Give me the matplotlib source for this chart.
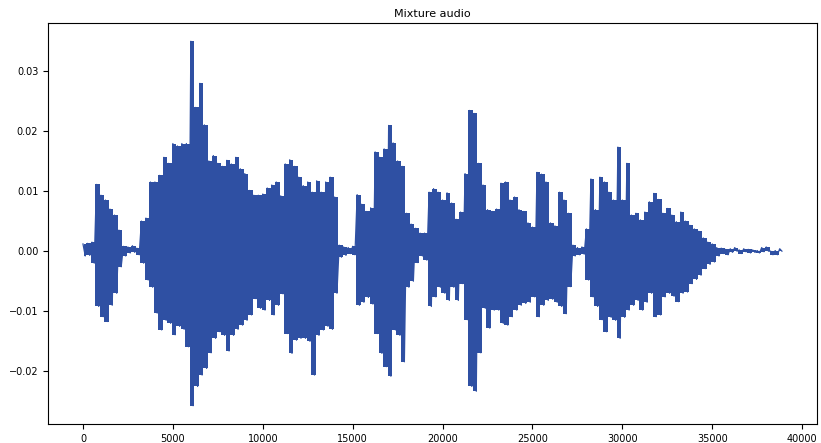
import numpy as np
import matplotlib
matplotlib.use("Agg")
import matplotlib.pyplot as plt

title = "Mixture audio"
step = 250  # samples between envelope readings

# upper (positive) peaks of the waveform, one reading every 250 samples from sample 0
upper = [
    0.0012, 0.0013, 0.0015, 0.0111, 0.0093, 0.0085, 0.0070, 0.0060, 0.0035, 0.0008,
    0.0007, 0.0009, 0.0005, 0.0050, 0.0055, 0.0115, 0.0115, 0.0126, 0.0156, 0.0146,
    0.0179, 0.0175, 0.0179, 0.0179, 0.0349, 0.0239, 0.0279, 0.0210, 0.0150, 0.0159,
    0.0146, 0.0141, 0.0151, 0.0145, 0.0156, 0.0137, 0.0129, 0.0101, 0.0093, 0.0093,
    0.0095, 0.0105, 0.0110, 0.0115, 0.0092, 0.0145, 0.0152, 0.0141, 0.0123, 0.0109,
    0.0115, 0.0098, 0.0117, 0.0098, 0.0115, 0.0123, 0.0090, 0.0010, 0.0007, 0.0006,
    0.0008, 0.0094, 0.0078, 0.0066, 0.0072, 0.0165, 0.0156, 0.0170, 0.0209, 0.0180,
    0.0150, 0.0141, 0.0063, 0.0045, 0.0038, 0.0030, 0.0030, 0.0098, 0.0104, 0.0098,
    0.0085, 0.0097, 0.0080, 0.0053, 0.0065, 0.0129, 0.0234, 0.0229, 0.0146, 0.0110,
    0.0069, 0.0066, 0.0070, 0.0113, 0.0115, 0.0085, 0.0090, 0.0069, 0.0066, 0.0047,
    0.0040, 0.0131, 0.0128, 0.0115, 0.0047, 0.0042, 0.0098, 0.0085, 0.0063, 0.0010,
    0.0006, 0.0007, 0.0037, 0.0120, 0.0069, 0.0123, 0.0115, 0.0098, 0.0085, 0.0173,
    0.0085, 0.0146, 0.0060, 0.0063, 0.0052, 0.0065, 0.0082, 0.0096, 0.0086, 0.0063,
    0.0071, 0.0060, 0.0049, 0.0065, 0.0050, 0.0043, 0.0037, 0.0033, 0.0022, 0.0015,
    0.0012, 0.0006, 0.0005, 0.0003, 0.0004, 0.0006, 0.0002, 0.0004, 0.0003, 0.0002,
    0.0001, 0.0006, 0.0007, 0.0000, 0.0001, 0.0004,
]

# lower (negative) peaks of the waveform, read half a step after each upper peak
lower = [
    -0.0008, -0.0007, -0.0020, -0.0092, -0.0109, -0.0117, -0.0090, -0.0070, -0.0026, -0.0008,
    -0.0003, -0.0002, -0.0006, -0.0020, -0.0048, -0.0060, -0.0103, -0.0131, -0.0115, -0.0120,
    -0.0139, -0.0125, -0.0130, -0.0159, -0.0257, -0.0225, -0.0206, -0.0195, -0.0169, -0.0145,
    -0.0134, -0.0140, -0.0166, -0.0140, -0.0130, -0.0123, -0.0115, -0.0106, -0.0079, -0.0095,
    -0.0098, -0.0082, -0.0106, -0.0090, -0.0071, -0.0137, -0.0170, -0.0148, -0.0145, -0.0145,
    -0.0150, -0.0206, -0.0140, -0.0131, -0.0125, -0.0130, -0.0070, -0.0010, -0.0007, -0.0004,
    -0.0006, -0.0090, -0.0085, -0.0077, -0.0088, -0.0137, -0.0170, -0.0192, -0.0208, -0.0131,
    -0.0140, -0.0184, -0.0060, -0.0050, -0.0019, -0.0008, -0.0015, -0.0092, -0.0076, -0.0060,
    -0.0070, -0.0082, -0.0060, -0.0082, -0.0054, -0.0114, -0.0225, -0.0233, -0.0169, -0.0095,
    -0.0128, -0.0098, -0.0098, -0.0120, -0.0123, -0.0109, -0.0098, -0.0090, -0.0087, -0.0085,
    -0.0076, -0.0109, -0.0090, -0.0082, -0.0080, -0.0085, -0.0092, -0.0104, -0.0059, -0.0008,
    -0.0006, -0.0005, -0.0048, -0.0076, -0.0092, -0.0114, -0.0134, -0.0110, -0.0115, -0.0145,
    -0.0110, -0.0098, -0.0090, -0.0082, -0.0098, -0.0085, -0.0070, -0.0109, -0.0106, -0.0076,
    -0.0070, -0.0075, -0.0084, -0.0070, -0.0068, -0.0054, -0.0047, -0.0040, -0.0029, -0.0022,
    -0.0018, -0.0008, -0.0004, -0.0006, -0.0002, 0.0000, -0.0004, -0.0001, -0.0003, -0.0002,
    -0.0003, -0.0001, 0.0000, -0.0006, -0.0006, 0.0000,
]

color = "#2f50a3"
up = np.array(upper)
lo = np.array(lower)
n = len(up)
x_up = np.arange(n) * step
x_lo = x_up + step // 2
x = np.empty(2 * n)
y = np.empty(2 * n)
x[0::2], x[1::2] = x_up, x_lo
y[0::2], y[1::2] = up, lo

fig = plt.figure(figsize=(8.21, 4.43), dpi=100)
ax = fig.add_axes([0.0585, 0.043, 0.9365, 0.905])
ax.fill_between(x_up + step // 4, lo, up, step="mid", color=color, linewidth=0)
ax.plot(x, y, color=color, linewidth=0.9)
ax.set_title(title, fontsize=8, pad=4)
ax.tick_params(labelsize=7)
ax.set_xticks(np.arange(0, 40001, 5000))
fig.savefig("out.png", dpi=100)
